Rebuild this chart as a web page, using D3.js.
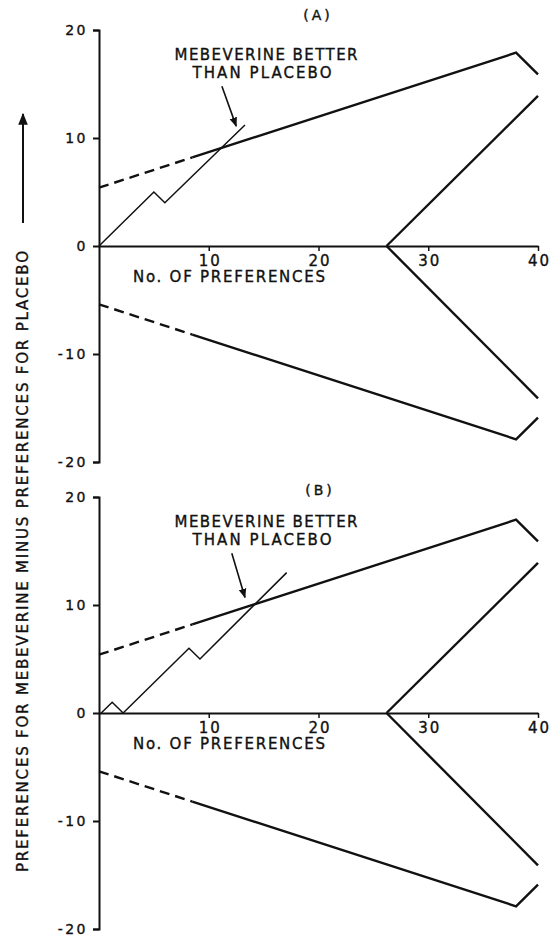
<!DOCTYPE html>
<html>
<head>
<meta charset="utf-8">
<script src="https://cdn.jsdelivr.net/npm/d3@7"></script>
<style>
  body { margin: 0; background: #fff; }
  text { font-family: "DejaVu Sans", sans-serif; fill: #111; stroke: #111; stroke-width: 0.35px; }
</style>
</head>
<body>
<div id="chart"></div>
<script>
// data
var xTicks = [10, 20, 30, 40];
var yTicks = [20, 10, 0, -10, -20];

// boundaries (same in both panels)
var upperDashed = [[0, 5.4], [8.5, 8.2]];
var upperSolid = [[8.5, 8.2], [38, 17.9], [40, 15.9]];
var lowerDashed = [[0, -5.4], [8.5, -8.2]];
var lowerSolid = [[8.5, -8.2], [38, -17.9], [40, -15.9]];
var innerUpper = [[26.2, 0], [40, 13.9]];
var innerLower = [[26.2, 0], [40, -14.1]];

// preference paths
var pathA = [[0, 0], [5, 5], [6, 4], [13.3, 11.2]];
var pathB = [[0.2, 0], [1.2, 1], [2.2, 0], [8.2, 6], [9.2, 5], [17.1, 13]];

var panels = [
    { label: "(A)", path: pathA, top: 30, labelX: 318, labelY: 20, noteY: 60, arrow: [[11.2, 14.8], [12.5, 11.1]] },
    { label: "(B)", path: pathB, top: 497, labelX: 320, labelY: 495, noteY: 527, arrow: [[12.1, 14.8], [13.3, 10.7]] }
];

var W = 552, H = 936;
var svg = d3.select("#chart").append("svg")
    .attr("width", W)
    .attr("height", H);

var defs = svg.append("defs");
defs.append("marker")
    .attr("id", "head")
    .attr("viewBox", "0 0 10 10")
    .attr("refX", 9).attr("refY", 5)
    .attr("markerWidth", 6).attr("markerHeight", 6)
    .attr("markerUnits", "strokeWidth")
    .attr("orient", "auto")
    .append("path")
    .attr("d", "M0,1 L10,5 L0,9 Z")
    .attr("fill", "#111");

var x = d3.scaleLinear().domain([0, 40]).range([99, 538]);

panels.forEach(function(p) {
    var y = d3.scaleLinear().domain([-20, 20]).range([p.top + 432, p.top]);
    var g = svg.append("g");

    var line = d3.line()
        .x(function(d) { return x(d[0]); })
        .y(function(d) { return y(d[1]); });

    // y axis
    var yAxis = d3.axisLeft(y)
        .tickValues(yTicks)
        .tickSize(6)
        .tickPadding(4)
        .tickFormat(function(d) { return d < 0 ? "-" + Math.abs(d) : d; });
    var ya = g.append("g").attr("transform", "translate(" + x(0) + ",0)").call(yAxis);
    ya.select(".domain").attr("stroke", "#111").attr("stroke-width", 2);
    ya.selectAll(".tick line").attr("stroke", "#111").attr("stroke-width", 2);
    ya.selectAll(".tick text")
        .style("font-family", "DejaVu Sans, sans-serif")
        .style("font-size", "14px")
        .style("letter-spacing", "2.5px")
        .attr("dx", "-1")
        .attr("fill", "#111");

    // x axis at zero
    var xAxis = d3.axisBottom(x)
        .tickValues(xTicks)
        .tickSize(5)
        .tickSizeOuter(0)
        .tickPadding(4);
    var xa = g.append("g").attr("transform", "translate(0," + y(0) + ")").call(xAxis);
    xa.select(".domain").attr("stroke", "#111").attr("stroke-width", 2);
    xa.selectAll(".tick line").attr("stroke", "#111").attr("stroke-width", 1.5);
    xa.selectAll(".tick text")
        .style("font-family", "DejaVu Sans, sans-serif")
        .style("font-size", "15px")
        .style("letter-spacing", "2px")
        .attr("dx", "1")
        .attr("fill", "#111");

    g.append("text")
        .attr("x", 133)
        .attr("y", y(0) + 36)
        .attr("textLength", 192)
        .attr("lengthAdjust", "spacing")
        .style("font-size", "15px")
        .text("No. OF PREFERENCES");

    // boundaries
    [upperDashed, lowerDashed].forEach(function(d) {
        g.append("path").datum(d)
            .attr("d", line)
            .attr("fill", "none")
            .attr("stroke", "#111")
            .attr("stroke-width", 2.4)
            .attr("stroke-dasharray", "10,6");
    });
    [upperSolid, lowerSolid, innerUpper, innerLower].forEach(function(d) {
        g.append("path").datum(d)
            .attr("d", line)
            .attr("fill", "none")
            .attr("stroke", "#111")
            .attr("stroke-width", 2.4)
            .attr("stroke-linejoin", "miter");
    });

    // preference path
    g.append("path").datum(p.path)
        .attr("d", line)
        .attr("fill", "none")
        .attr("stroke", "#111")
        .attr("stroke-width", 1.5);

    // annotation
    g.append("text")
        .attr("x", p.labelX).attr("y", p.labelY)
        .attr("text-anchor", "middle")
        .style("font-size", "14px")
        .style("letter-spacing", "3px")
        .text(p.label);

    var note = g.append("text")
        .attr("text-anchor", "middle")
        .style("font-size", "15px");
    note.append("tspan")
        .attr("x", 266).attr("y", p.noteY)
        .attr("textLength", 183).attr("lengthAdjust", "spacing")
        .text("MEBEVERINE BETTER");
    note.append("tspan")
        .attr("x", 262).attr("y", p.noteY + 18)
        .attr("textLength", 139).attr("lengthAdjust", "spacing")
        .text("THAN PLACEBO");

    g.append("path").datum(p.arrow)
        .attr("d", line)
        .attr("stroke", "#111")
        .attr("stroke-width", 1.6)
        .attr("marker-end", "url(#head)");
});

// shared y label with arrow
svg.append("text")
    .attr("transform", "translate(28,562) rotate(-90)")
    .attr("x", -310)
    .attr("y", 0)
    .attr("textLength", 621)
    .attr("lengthAdjust", "spacing")
    .style("font-size", "15px")
    .text("PREFERENCES FOR MEBEVERINE MINUS PREFERENCES FOR PLACEBO");

svg.append("line")
    .attr("x1", 23).attr("y1", 223)
    .attr("x2", 23).attr("y2", 114)
    .attr("stroke", "#111")
    .attr("stroke-width", 2)
    .attr("marker-end", "url(#head)");
</script>
</body>
</html>
